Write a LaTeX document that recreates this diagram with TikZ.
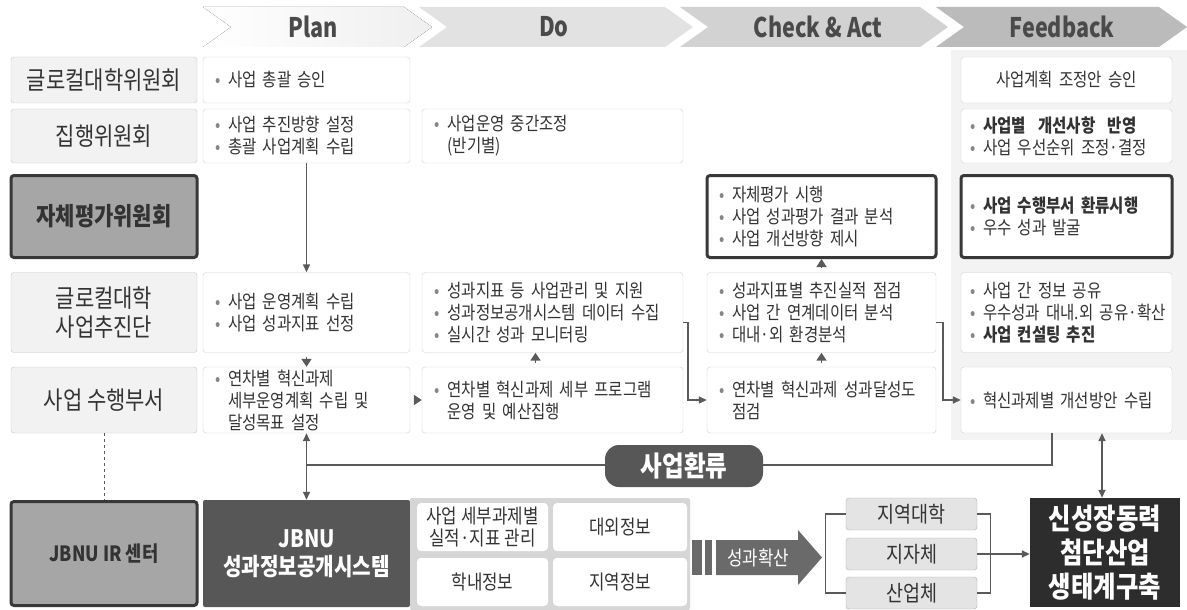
\documentclass[tikz,border=0pt]{standalone}
\usepackage{fontspec}
\setmainfont{Noto Sans CJK KR}[FakeStretch=0.84]
\newfontfamily\hdfont{Noto Sans CJK KR}[FakeStretch=0.8]
\usetikzlibrary{positioning, arrows.meta}

\definecolor{ink}{HTML}{333333}
\definecolor{hdrgray}{HTML}{4A4A4A}
\definecolor{lblfill}{HTML}{F2F2F2}
\definecolor{lblline}{HTML}{C4C4C4}
\definecolor{cellline}{HTML}{CFCFCF}
\definecolor{keyfill}{HTML}{A6A6A6}
\definecolor{keyline}{HTML}{383838}
\definecolor{linkgray}{HTML}{5A5A5A}
\definecolor{dotgray}{HTML}{858585}
\definecolor{sysfill}{HTML}{575757}
\definecolor{panelgray}{HTML}{D6D6D6}
\definecolor{fbpanel}{HTML}{F3F3F3}
\definecolor{ecofill}{HTML}{2D2D2D}
\definecolor{regfill}{HTML}{E4E4E4}
\definecolor{regline}{HTML}{ABABAB}
\definecolor{spreadgray}{HTML}{6A6A6A}
\definecolor{chvA}{HTML}{EFEFEF}
\definecolor{chvB}{HTML}{E2E2E2}
\definecolor{chvC}{HTML}{D2D2D2}
\definecolor{chvD}{HTML}{BBBBBB}

\newcommand{\bl}{\makebox[13pt][l]{\textcolor{dotgray}{•}}}
\newcommand{\bnext}{\hspace*{13pt}}
\newcommand{\chev}[3]{\fill[#3] (#1,7) -- (#2,7) -- (#2+28,27) -- (#2,47) -- (#1,47) -- (#1+28,27) -- cycle;}

\begin{document}
\begin{tikzpicture}[x=1pt, y=-1pt, >={Triangle[length=8pt, width=7pt]},
  lbl/.style={draw=lblline, fill=lblfill, rounded corners=3pt, minimum width=186pt, text=ink, align=center, font=\fontsize{25}{29}\selectfont},
  keylbl/.style={lbl, fill=keyfill, draw=keyline, line width=3pt, font=\fontsize{25}{29}\selectfont\bfseries},
  cell/.style={draw=cellline, fill=white, rounded corners=3pt, text=ink, align=left, inner xsep=12pt, inner ysep=0pt, font=\fontsize{18.5}{22}\selectfont},
  keycell/.style={draw=keyline, line width=3pt},
  pcol/.style={cell, text width=183pt},
  dcol/.style={cell, inner xsep=12.5pt, text width=236pt},
  ccol/.style={cell, text width=205pt},
  fcol/.style={cell, inner xsep=9pt, text width=193pt},
  rowa/.style={minimum height=46pt},
  rowb/.style={minimum height=54pt},
  rowc/.style={minimum height=82pt},
  rowd/.style={minimum height=80pt},
  rowe/.style={minimum height=66pt},
  link/.style={draw=linkgray, line width=1.6pt},
  tip/.style={link, -{Triangle[length=8pt, width=10pt]}, shorten <=4pt},
  hdr/.style={text=hdrgray, font=\hdfont\bfseries\fontsize{27}{27}\selectfont},
  gcell/.style={fill=white, rounded corners=4pt, minimum width=131pt, minimum height=48pt, text=ink, align=center, inner sep=1pt, font=\fontsize{20}{22}\selectfont},
  region/.style={draw=regline, fill=regfill, rounded corners=3pt, minimum width=131pt, minimum height=32pt, inner sep=1pt, text=ink, font=\fontsize{22}{22}\selectfont},
]
\useasboundingbox (0,0) rectangle (1187,610);

\chev{203}{404}{left color=white, right color=chvA}
\chev{419}{665}{chvB}
\chev{680}{920}{chvC}
\chev{936}{1159}{chvD}
\node[hdr] (hplan) at (313,27) {Plan};
\node[hdr] (hdo) at (554,27) {Do};
\node[hdr] (hcheck) at (818,27) {Check \& Act};
\node[hdr] (hfeed) at (1062,27) {Feedback};

\fill[fbpanel] (951,50) rectangle (1187,440);

\node[lbl, rowa] (l1) at (104,80) {글로컬대학위원회};
\node[lbl, rowb] (l2) at (104,136) {집행위원회};
\node[keylbl, rowc] (l3) at (104,216.5) {자체평가위원회};
\node[lbl, rowd] (l4) at (104,312.5) {글로컬대학\\사업추진단};
\node[lbl, rowe] (l5) at (104,400) {사업 수행부서};

\node[pcol, rowa] (p1) at (306.5,80) {\bl 사업 총괄 승인};
\node[pcol, rowb] (p2) at (306.5,136) {\bl 사업 추진방향 설정\\\bl 총괄 사업계획 수립};
\node[pcol, rowd] (p4) at (306.5,312.5) {\bl 사업 운영계획 수립\\\bl 사업 성과지표 선정};
\node[pcol, rowe] (p5) at (306.5,400) {\bl 연차별 혁신과제\\\bnext 세부운영계획 수립 및\\\bnext 달성목표 설정};

\node[dcol, rowb] (d2) at (552.5,136) {\bl 사업운영 중간조정\\\bnext (반기별)};
\node[dcol, rowd] (d4) at (552.5,312.5) {\bl 성과지표 등 사업관리 및 지원\\\bl 성과정보공개시스템 데이터 수집\\\bl 실시간 성과 모니터링};
\node[dcol, rowe] (d5) at (552.5,400) {\bl 연차별 혁신과제 세부 프로그램\\\bnext 운영 및 예산집행};

\node[ccol, keycell, rowc] (c3) at (821.5,216.5) {\bl 자체평가 시행\\\bl 사업 성과평가 결과 분석\\\bl 사업 개선방향 제시};
\node[ccol, rowd] (c4) at (821.5,312.5) {\bl 성과지표별 추진실적 점검\\\bl 사업 간 연계데이터 분석\\\bl 대내·외 환경분석};
\node[ccol, rowe] (c5) at (821.5,400) {\bl 연차별 혁신과제 성과달성도\\\bnext 점검};

\node[fcol, rowa, align=center] (f1) at (1066.5,80) {사업계획 조정안 승인};
\node[fcol, rowb] (f2) at (1066.5,136) {\bl \textbf{사업별\ \ 개선사항\ \ 반영}\\\bl 사업 우선순위 조정·결정};
\node[fcol, keycell, rowc] (f3) at (1066.5,216.5) {\bl \textbf{사업 수행부서 환류시행}\\\bl 우수 성과 발굴};
\node[fcol, rowd] (f4) at (1066.5,312.5) {\bl 사업 간 정보 공유\\\bl \mbox{우수성과 대내.외 공유·확산}\\\bl \textbf{사업 컨설팅 추진}};
\node[fcol, rowe] (f5) at (1066.5,400) {\bl 혁신과제별 개선방안 수립};

\node[keylbl, minimum height=104pt, font=\fontsize{21}{24}\selectfont\bfseries] (ir) at (104,553.5) {JBNU IR 센터};
\node[fill=sysfill, rounded corners=2pt, minimum width=207pt, minimum height=107pt, text=white, align=center, font=\fontsize{24}{28}\selectfont\bfseries] (sys) at (306.5,553.5) {JBNU\\성과정보공개시스템};

\fill[panelgray, rounded corners=2pt] (410,498) rectangle (690,610);
\node[gcell] (g1) at (482.5,527) {사업 세부과제별\\실적·지표 관리};
\node[gcell, minimum width=134pt] (g2) at (620,527) {대외정보};
\node[gcell] (g3) at (482.5,582) {학내정보};
\node[gcell, minimum width=134pt] (g4) at (620,582) {지역정보};

\fill[spreadgray] (692,540) rectangle (702,575);
\fill[spreadgray] (705,540) rectangle (712,575);
\fill[spreadgray] (716,540) -- (798,540) -- (798,530) -- (822,557.5) -- (798,585) -- (798,575) -- (716,575) -- cycle;
\node[text=white, font=\fontsize{20}{20}\selectfont] (spread) at (758,557.5) {성과확산};

\node[region] (uni) at (911.5,514) {지역대학};
\node[region] (gov) at (911.5,554) {지자체};
\node[region] (ind) at (911.5,593) {산업체};
\node[fill=ecofill, minimum width=150pt, minimum height=109pt, text=white, align=center, font=\fontsize{29}{34}\selectfont\bfseries] (eco) at (1105,552.5) {신성장동력\\첨단산업\\생태계구축};

\draw[link, ->] (p2) -- (p4);
\draw[tip] (p4) -- (p5);
\draw[tip] (p5) -- (d5);
\draw[tip] ([xshift=-17pt]d5.north) -- ([xshift=-17pt]d4.south);
\draw[tip] (c5) -- (c4);
\draw[tip] (c4) -- (c3);
\draw[link, ->] ([yshift=-10pt]d4.east) -- ++(5,0) |- (c5.west);
\draw[link, ->] ([yshift=-10pt]c4.east) -- ++(7,0) |- (f5.west);

\coordinate (hub) at (306.5,465);
\draw[link] ([xshift=-14.5pt]f5.south) |- (hub);
\node[fill=sysfill, rounded corners=14pt, minimum width=158pt, minimum height=42pt, text=white, font=\fontsize{28}{28}\selectfont\bfseries] (loop) at (684,466) {사업환류};
\draw[link, <->] (p5) -- (sys);
\draw[link, <->] ([xshift=-3pt]eco.north) -- ([xshift=-3pt]eco.north |- f5.south);
\draw[link, line width=1pt, dashed] (l5) -- (ir);

\draw[link, line width=1.2pt] (uni.west) -- ++(-20,0) |- (ind.west);
\draw[link, line width=1.2pt] (uni.east) -- ++(13,0) |- (ind.east);
\draw[link, ->] (gov.east) -- (gov.east -| eco.west);

\end{tikzpicture}
\end{document}
